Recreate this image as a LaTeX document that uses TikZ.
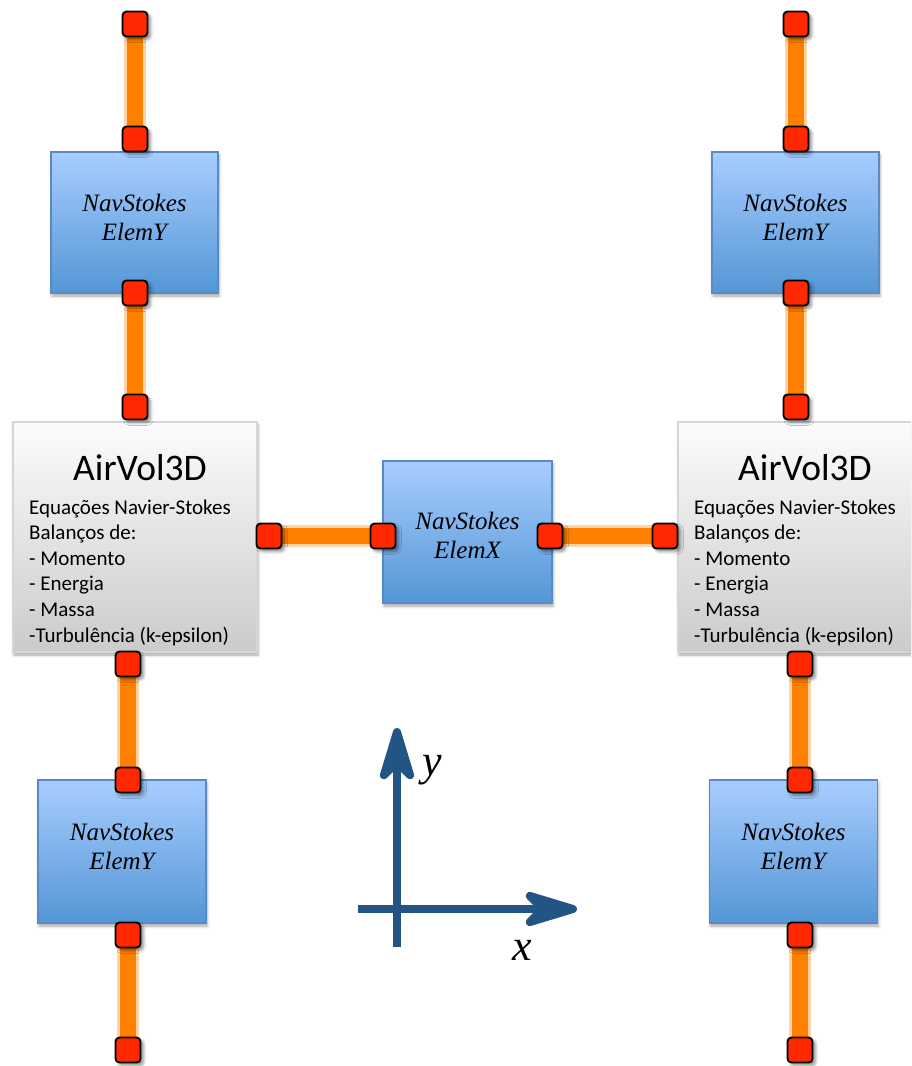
\documentclass[tikz,border=0pt]{standalone}
\usepackage{fontspec}
\setmainfont{Liberation Serif}
\newfontfamily\calib{Carlito}
\newfontfamily\serifit{Liberation Serif}[ItalicFont={Liberation Serif Italic}]
\usetikzlibrary{arrows.meta,shadows.blur}
\pgfdeclarelayer{background}
\pgfsetlayers{background,main}

\definecolor{portred}{RGB}{255,40,0}
\definecolor{wire}{RGB}{255,128,0}
\definecolor{bluetop}{RGB}{168,205,255}
\definecolor{bluebot}{RGB}{84,150,214}
\definecolor{blueedge}{RGB}{88,138,198}
\definecolor{graytop}{RGB}{252,252,252}
\definecolor{graybot}{RGB}{203,203,203}
\definecolor{grayedge}{RGB}{214,214,214}
\definecolor{axiscol}{RGB}{34,84,132}

\tikzset{
  elembox/.style={rectangle, draw=blueedge, line width=1.3pt,
    top color=bluetop, bottom color=bluebot,
    minimum width=167pt, minimum height=141pt, inner sep=0pt,
    blur shadow={shadow xshift=1pt, shadow yshift=-3pt, shadow blur radius=3pt, shadow opacity=35},
    font=\serifit\itshape\fontsize{25}{29}\selectfont, align=center},
  volbox/.style={rectangle, draw=grayedge, line width=1.3pt,
    top color=graytop, bottom color=graybot,
    minimum width=244pt, minimum height=230pt, inner sep=0pt,
    blur shadow={shadow xshift=1pt, shadow yshift=-3pt, shadow blur radius=3pt, shadow opacity=35}},
  voltitle/.style={anchor=base west, inner sep=0pt, font=\calib\fontsize{37.5}{40}\selectfont},
  volline/.style={anchor=base west, inner sep=0pt, font=\calib\fontsize{21}{25}\selectfont},
  port/.style={rectangle, rounded corners=4pt, draw=black, line width=1.9pt,
    fill=portred, minimum size=25pt, inner sep=0pt,
    blur shadow={shadow xshift=3pt, shadow yshift=-3pt, shadow blur radius=3pt, shadow opacity=45}},
  wireglow/.style={line width=22pt, wire!35},
  wirecore/.style={line width=16pt, wire},
  axisarrow/.style={line width=8pt, axiscol,
    -{Stealth[length=70pt, width=42pt, inset=20pt, round]}},
  axislabel/.style={inner sep=0pt, font=\serifit\itshape\fontsize{44}{44}\selectfont}
}

\begin{document}
\begin{tikzpicture}[x=1pt, y=-1pt]
\useasboundingbox (0,0) rectangle (911,1066);
\clip (0,0) rectangle (911,1066);

% element blocks
\node[elembox] (eyTL) at (134.5,222.5) {NavStokes\\ElemY\rule[-10pt]{0pt}{10pt}};
\node[elembox] (eyTR) at (795.5,222.5) {NavStokes\\ElemY\rule[-10pt]{0pt}{10pt}};
\node[elembox, minimum width=168pt, minimum height=143pt] (eyBL) at (122,851.5) {NavStokes\\ElemY\rule[-10pt]{0pt}{10pt}};
\node[elembox, minimum width=168pt, minimum height=143pt] (eyBR) at (793.5,851.5) {NavStokes\\ElemY\rule[-10pt]{0pt}{10pt}};
\node[elembox, minimum width=169pt, minimum height=142pt] (ex) at (467.5,532) {\rule{0pt}{25pt}NavStokes\\ElemX};

% air volumes
\node[volbox] (avL) at (135,537) {};
\node[volbox] (avR) at (800,537) {};

\node[voltitle] (avLt) at (73,480) {AirVol3D};
\node[voltitle] (avRt) at (738,480) {AirVol3D};
\foreach \txt [count=\i] in {Equações Navier-Stokes, Balanços de:, - Momento, - Energia, - Massa, -Turbulência (k-epsilon)}{
  \node[volline] (avLl\i) at (29,{514+25.6*(\i-1)}) {\txt};
  \node[volline] (avRl\i) at (694,{514+25.6*(\i-1)}) {\txt};
}

% ports, left column
\node[port] (pL1) at (135,24) {};
\node[port] (pL2) at (135,139) {};
\node[port] (pL3) at (135,293) {};
\node[port] (pL4) at (135,407) {};
\node[port] (pL5) at (128,664) {};
\node[port] (pL6) at (128,780) {};
\node[port] (pL7) at (128,935) {};
\node[port] (pL8) at (128,1050) {};
\node[port] (pLx) at (269,536) {};
% ports, element X
\node[port] (pXa) at (383,536) {};
\node[port] (pXb) at (550,536) {};
% ports, right column
\node[port] (pR1) at (796,24) {};
\node[port] (pR2) at (796,139) {};
\node[port] (pR3) at (796,293) {};
\node[port] (pR4) at (796,407) {};
\node[port] (pR5) at (800,664) {};
\node[port] (pR6) at (800,780) {};
\node[port] (pR7) at (800,935) {};
\node[port] (pR8) at (800,1050) {};
\node[port] (pRx) at (665,536) {};

% connections
\begin{pgfonlayer}{background}
\foreach \a/\b in {pL1/pL2, pL3/pL4, pL5/pL6, pL7/pL8, pR1/pR2, pR3/pR4, pR5/pR6, pR7/pR8, pLx/pXa, pXb/pRx}{
  \draw[wireglow] (\a.center) -- (\b.center);
  \draw[wirecore] (\a.center) -- (\b.center);
}
\end{pgfonlayer}

% axes
\coordinate (yfoot) at (397,947);
\coordinate (ytip) at (397,728);
\coordinate (xfoot) at (358,909);
\coordinate (xtip) at (577,909);
\draw[axisarrow] (xfoot) -- (xtip);
\draw[axisarrow] (yfoot) -- (ytip);
\node[axislabel] (ylab) at (432,770) {y};
\node[axislabel] (xlab) at (522,950) {x};
\end{tikzpicture}
\end{document}
